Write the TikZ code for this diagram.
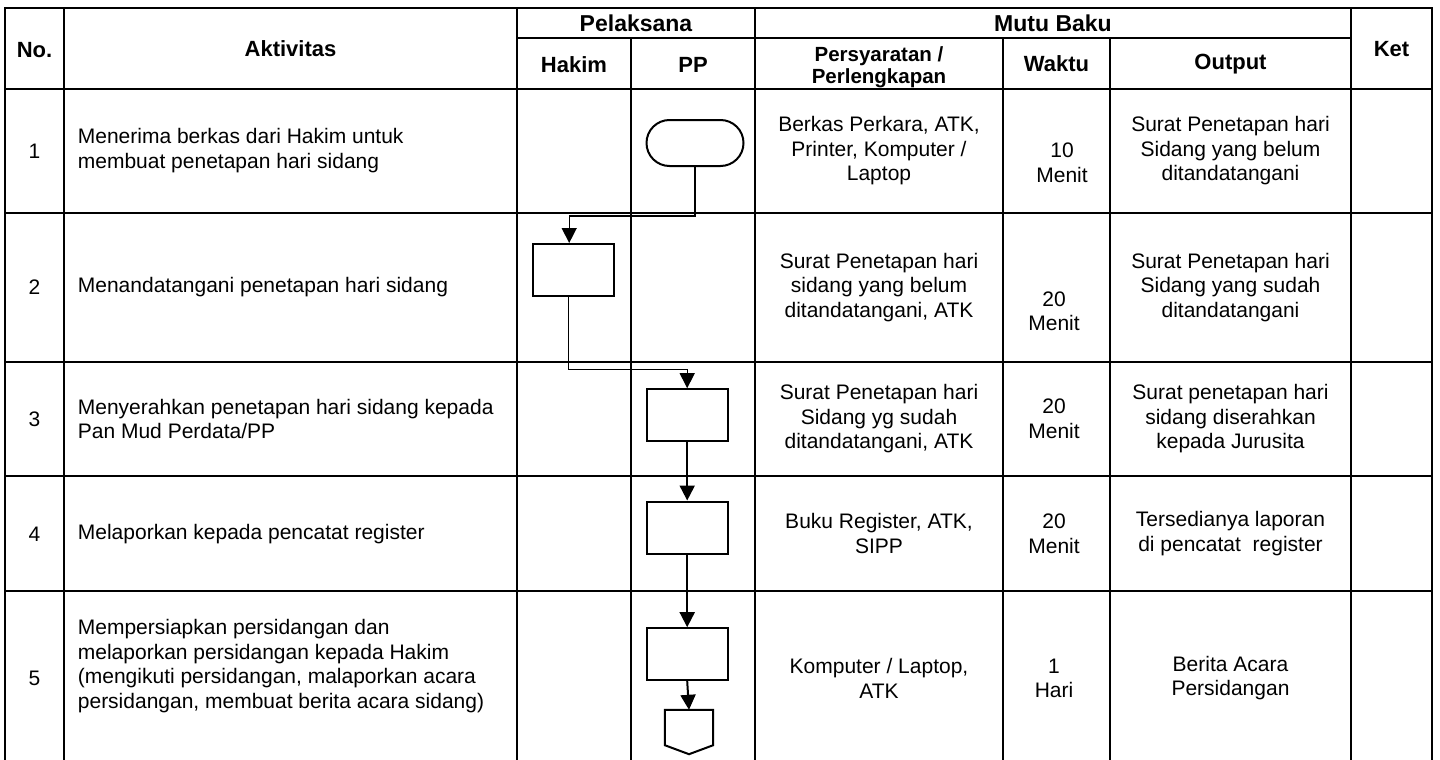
\documentclass[tikz,border=0pt]{standalone}
\usepackage{fontspec}
\setmainfont{Liberation Sans}
\usetikzlibrary{arrows.meta,calc}

\begin{document}
\begin{tikzpicture}[x=1pt,y=-1pt,
  grid/.style={line width=2pt, line cap=rect},
  procbox/.style={draw, line width=2pt, minimum width=81pt, minimum height=52pt, inner sep=0},
  flow/.style={line width=1.4pt, -{Triangle[width=15pt,length=15pt]}},
  straight/.style={flow, line width=2pt},
  body/.style={inner sep=0, font=\fontsize{21}{24.5}\selectfont},
  head/.style={inner sep=0, font=\fontsize{22}{22}\selectfont\bfseries, align=center},
  bighead/.style={head, font=\fontsize{23}{23}\selectfont\bfseries},
]
\useasboundingbox (0,0) rectangle (1440,760);

% table grid
\draw[grid] (5,8) rectangle (1432,775);
\foreach \x in {64,517,755,1351} \draw[grid] (\x,8) -- (\x,775);
\foreach \x in {631,1003,1110} \draw[grid] (\x,38) -- (\x,775);
\draw[grid] (517,38) -- (1351,38);
\foreach \y in {89,212.7,361.7,476,590.7} \draw[grid] (5,\y) -- (1432,\y);

% header
\node[head] (hNo)  at (34.5,50) {No.};
\node[head] (hAkt) at (290.5,49) {Aktivitas};
\node[bighead] (hPel) at (636,23) {Pelaksana};
\node[head] (hHak) at (574,65) {Hakim};
\node[head] (hPP)  at (693,65) {PP};
\node[bighead] (hMut) at (1053,23) {Mutu Baku};
\node[head, font=\fontsize{20.5}{22}\selectfont\bfseries] (hPer) at (879,67) {Persyaratan /\\Perlengkapan};
\node[head] (hWak) at (1056.5,64) {Waktu};
\node[head] (hOut) at (1230.5,64) {Output};
\node[head] (hKet) at (1391.5,49) {Ket};

% row numbers
\node[body] (n1) at (34.5,151.5) {1};
\node[body] (n2) at (34.5,287) {2};
\node[body] (n3) at (34.5,419) {3};
\node[body] (n4) at (34.5,534) {4};
\node[body] (n5) at (34.5,678) {5};

% activities
\node[body, anchor=west, align=left] (a1) at (77.7,150.5) {Menerima berkas dari Hakim untuk\\membuat penetapan hari sidang};
\node[body, anchor=west, align=left] (a2) at (77.7,287) {Menandatangani penetapan hari sidang};
\node[body, anchor=west, align=left] (a3) at (77.7,419) {Menyerahkan penetapan hari sidang kepada\\Pan Mud Perdata/PP};
\node[body, anchor=west, align=left] (a4) at (77.7,534) {Melaporkan kepada pencatat register};
\node[body, anchor=west, align=left] (a5) at (77.7,666) {Mempersiapkan persidangan dan\\melaporkan persidangan kepada Hakim\\(mengikuti persidangan, malaporkan acara\\persidangan, membuat berita acara sidang)};

% requirements
\node[body, align=center] (p1) at (879,151) {Berkas Perkara, ATK,\\Printer, Komputer /\\Laptop};
\node[body, align=center] (p2) at (879,287.5) {Surat Penetapan hari\\sidang yang belum\\ditandatangani, ATK};
\node[body, align=center] (p3) at (879,419) {Surat Penetapan hari\\Sidang yg sudah\\ditandatangani, ATK};
\node[body, align=center] (p4) at (879,533.7) {Buku Register, ATK,\\SIPP};
\node[body, align=center] (p5) at (879,678.3) {Komputer / Laptop,\\ATK};

% time
\node[body, align=center] (w1) at (1062,163) {10\\Menit};
\node[body, align=center] (w2) at (1054,311.5) {20\\Menit};
\node[body, align=center] (w3) at (1054,418.7) {20\\Menit};
\node[body, align=center] (w4) at (1054,533.7) {20\\Menit};
\node[body, align=center] (w5) at (1054,678.3) {1\\Hari};

% output
\node[body, align=center] (o1) at (1230.5,151) {Surat Penetapan hari\\Sidang yang belum\\ditandatangani};
\node[body, align=center] (o2) at (1230.5,287.5) {Surat Penetapan hari\\Sidang yang sudah\\ditandatangani};
\node[body, align=center] (o3) at (1230.5,419) {Surat penetapan hari\\sidang diserahkan\\kepada Jurusita};
\node[body, align=center] (o4) at (1230.5,533.7) {Tersedianya laporan\\di pencatat\ \ register};
\node[body, align=center] (o5) at (1230.5,678.3) {Berita Acara\\Persidangan};

% flow shapes
\node[draw, line width=2pt, rounded corners=23pt, minimum width=97pt, minimum height=46pt, inner sep=0] (start) at (695,143) {};
\node[procbox] (sign)   at (573.7,270) {};
\node[procbox] (hand)   at (687.2,415.2) {};
\node[procbox] (report) at (687.2,527.5) {};
\node[procbox] (prep)   at (687.2,654.2) {};
\node[inner sep=0, minimum width=48pt, minimum height=44pt] (off) at (689,732) {};
\draw[line width=2pt, line join=miter] (off.north west) -- (off.north east)
  -- ([yshift=9pt]off.south east) -- (off.south) -- ([yshift=9pt]off.south west) -- cycle;

% connectors
\draw[flow] (start.south) -- ++(0,49) -| ([xshift=-4.5pt]sign.north);
\draw[flow] ([xshift=-5pt]sign.south) -- ++(0,72.5) -| (hand.north);
\draw[straight] (hand.south) -- (report.north);
\draw[straight] (report.south) -- (prep.north);
\draw[straight] (prep.south) -- (off.north);
\end{tikzpicture}
\end{document}
